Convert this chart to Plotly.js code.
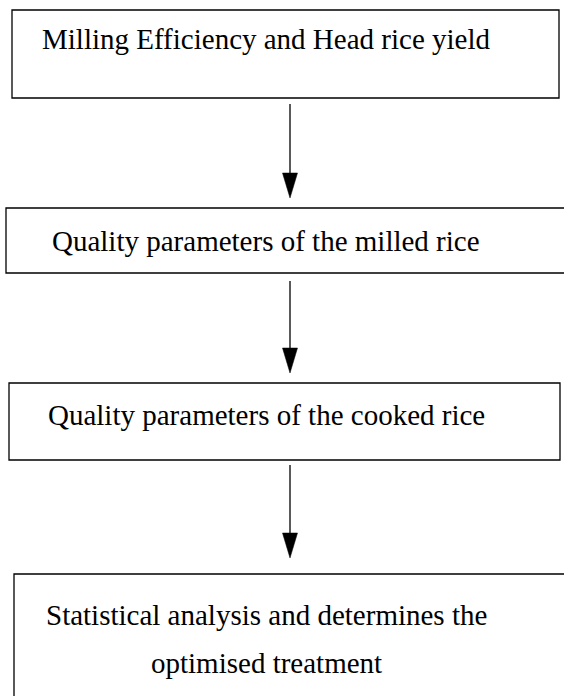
<!DOCTYPE html>
<html>
<head>
<meta charset="utf-8">
<script src="https://cdn.plot.ly/plotly-3.0.1.min.js"></script>
<style>html,body{margin:0;padding:0;background:#fff;}#chart{width:564px;height:696px;}</style>
</head>
<body>
<div id="chart"></div>
<script>
// Flowchart steps (content)
const steps = [
  "Milling Efficiency and Head rice yield",
  "Quality parameters of the milled rice",
  "Quality parameters of the cooked rice",
  "Statistical analysis and determines the<br>optimised treatment"
];

// Layout geometry (pixels, y downward)
const boxLeft   = [12, 6, 9, 14];
const boxRight  = [559, 572, 560, 572];
const boxTop    = [10, 208, 383, 574];
const boxBottom = [98, 273, 460, 702];
const textY     = [39, 241, 415, 639];
const textX     = 266;
const lineGap   = 48;
const arrowX    = 290;
const arrowStart = [104, 281, 465];
const arrowTip   = [198, 373, 558];

const shapes = [];
const annotations = [];
for (let i = 0; i < steps.length; i++) {
  shapes.push({type: 'rect', xref: 'x', yref: 'y',
    x0: boxLeft[i], x1: boxRight[i], y0: boxTop[i], y1: boxBottom[i],
    line: {color: '#000', width: 1.3}, fillcolor: 'rgba(0,0,0,0)'});
  const lines = steps[i].split('<br>');
  lines.forEach((ln, k) => {
    annotations.push({x: textX, y: textY[i] + (k - (lines.length - 1) / 2) * lineGap,
      xref: 'x', yref: 'y',
      text: ln, showarrow: false, xanchor: 'center', yanchor: 'middle',
      font: {family: 'Liberation Serif, Times New Roman, serif', size: 29, color: '#000'},
      align: 'center'});
  });
}
for (let i = 0; i < arrowStart.length; i++) {
  const headLen = 25, headHalf = 7.5;
  shapes.push({type: 'line', xref: 'x', yref: 'y',
    x0: arrowX, x1: arrowX, y0: arrowStart[i], y1: arrowTip[i] - headLen + 2,
    line: {color: '#000', width: 1.3}});
  shapes.push({type: 'path', xref: 'x', yref: 'y',
    path: `M ${arrowX - headHalf} ${arrowTip[i] - headLen} L ${arrowX + headHalf} ${arrowTip[i] - headLen} L ${arrowX} ${arrowTip[i]} Z`,
    fillcolor: '#000', line: {color: '#000', width: 0.5}});
}

const layout = {
  width: 564, height: 696,
  margin: {l: 0, r: 0, t: 0, b: 0},
  paper_bgcolor: '#fff', plot_bgcolor: '#fff',
  xaxis: {range: [0, 564], visible: false, fixedrange: true},
  yaxis: {range: [696, 0], visible: false, fixedrange: true},
  shapes: shapes,
  annotations: annotations,
  showlegend: false
};

Plotly.newPlot('chart', [], layout, {staticPlot: true, displayModeBar: false});
</script>
</body>
</html>
